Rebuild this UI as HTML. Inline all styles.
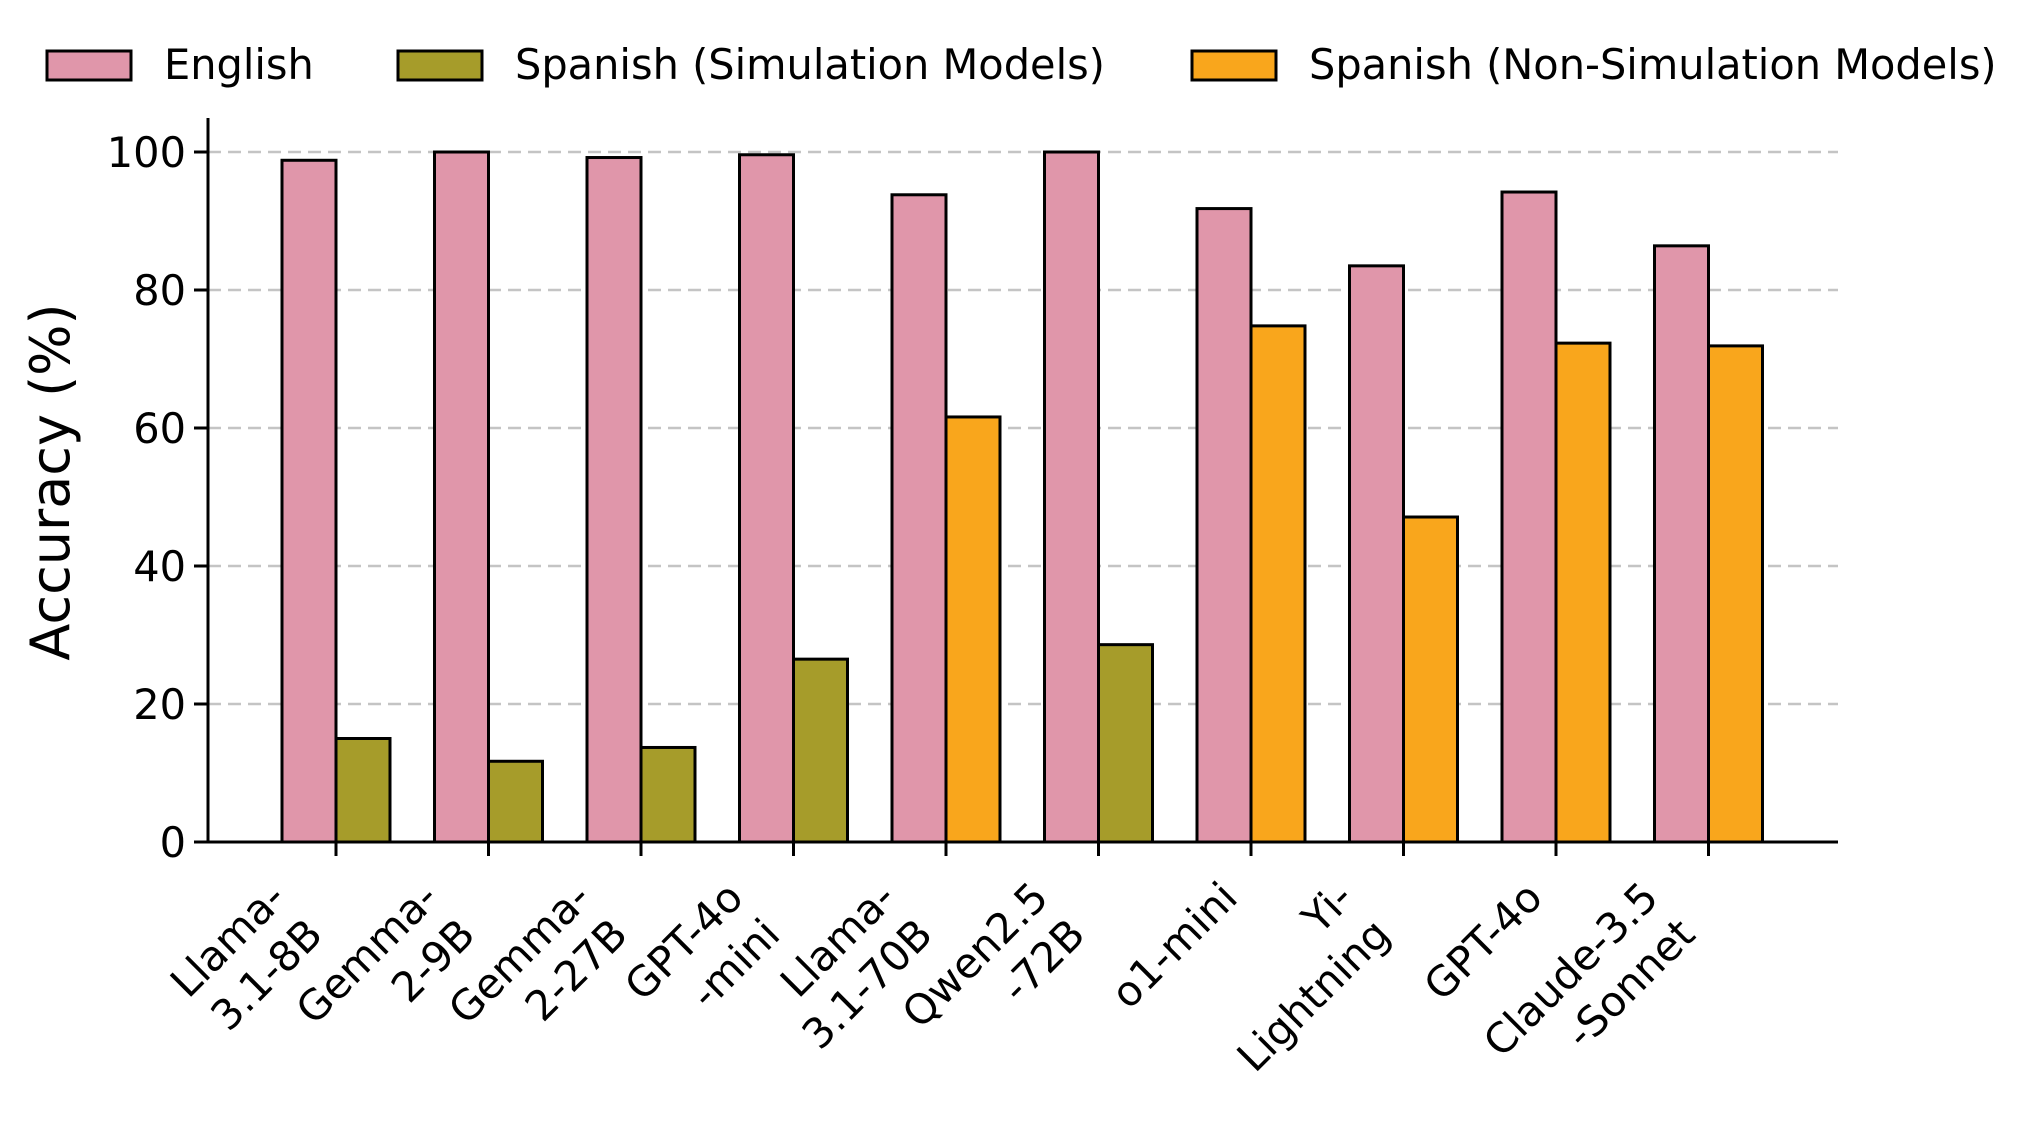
<!DOCTYPE html>
<html><head><meta charset="utf-8"><style>
html,body{margin:0;padding:0;background:#fff;}
svg{display:block;font-family:"DejaVu Sans","Liberation Sans",sans-serif;}
</style></head><body>
<svg id="chart" width="2041" height="1125" viewBox="0 0 2041 1125" xmlns="http://www.w3.org/2000/svg">
<g id="legend">
 <g>
  <rect x="47" y="51" width="84" height="29" fill="#e096aa" stroke="#000" stroke-width="3"/>
  <text x="164" y="79" font-size="41.5">English</text>
 </g>
 <g>
  <rect x="398" y="51" width="84" height="29" fill="#a69c2a" stroke="#000" stroke-width="3"/>
  <text x="515" y="79" font-size="41.5">Spanish (Simulation Models)</text>
 </g>
 <g>
  <rect x="1192" y="51" width="84" height="29" fill="#f9a61c" stroke="#000" stroke-width="3"/>
  <text x="1309" y="79" font-size="41.5">Spanish (Non-Simulation Models)</text>
 </g>
</g>
<g id="grid"></g>
<g id="bars"></g>
<g id="axes"></g>
<text transform="translate(69,482) rotate(-90)" text-anchor="middle" font-size="54">Accuracy (%)</text>
</svg>
<script>
const categories = ["Llama-\n3.1-8B","Gemma-\n2-9B","Gemma-\n2-27B","GPT-4o\n-mini","Llama-\n3.1-70B","Qwen2.5\n-72B","o1-mini","Yi-\nLightning","GPT-4o","Claude-3.5\n-Sonnet"];
const englishValues = [98.8,100,99.2,99.6,93.8,100,91.8,83.5,94.2,86.4];
const spanishValues = [15.0,11.7,13.7,26.5,61.6,28.6,74.8,47.1,72.3,71.9];
const simulationFlags = [true,true,true,true,false,true,false,false,false,false];
const yTicks = [0,20,40,60,80,100];

const NS="http://www.w3.org/2000/svg";
const X0=208, X1=1838, YTOP=118, Y0=842, PER=6.9;
const C0=336, STEP=152.5, BW=54, FS=41.5, LH=52;
function yScale(v){return Y0-v*PER;}
function xCenter(i){return C0+STEP*i;}
function mk(tag,attrs,parent){const e=document.createElementNS(NS,tag);for(const k in attrs)e.setAttribute(k,attrs[k]);parent.appendChild(e);return e;}

const grid=document.getElementById('grid');
const axes=document.getElementById('axes');
const bars=document.getElementById('bars');
yTicks.forEach(t=>{
  const y=yScale(t);
  if(t>0){
    const gl=mk('line',{x1:X0,x2:X1,y1:y,y2:y,stroke:'#c4c4c4','stroke-width':2.5,'stroke-dasharray':'13,7'},grid);
    
    
  }
  const tk=mk('line',{x1:X0-14,x2:X0,y1:y,y2:y,stroke:'#000','stroke-width':3},axes);
  
  
  const lb=mk('text',{x:X0-22,y:y+15,'text-anchor':'end','font-size':FS},axes);
  lb.textContent=t;
  
  
});
categories.forEach((c,i)=>{
  const cx=xCenter(i);
  const e=englishValues[i], s=spanishValues[i];
  const b1=mk('rect',{x:cx-BW,y:yScale(e),width:BW,height:Y0-yScale(e),fill:'#e096aa',stroke:'#000','stroke-width':3},bars);
  
  
  const b2=mk('rect',{x:cx,y:yScale(s),width:BW,height:Y0-yScale(s),fill:simulationFlags[i]?'#a69c2a':'#f9a61c',stroke:'#000','stroke-width':3},bars);
  
  
  const tk=mk('line',{x1:cx,x2:cx,y1:Y0,y2:Y0+14,stroke:'#000','stroke-width':3},axes);
  
  
  const lines=c.split('\n');
  const n=lines.length;
  const tx=cx-5-0.707*((n-1)*LH+9);
  const ty=Y0+58;
  const g=mk('g',{transform:'translate('+tx+','+ty+') rotate(-45)'},axes);
  
  
  lines.forEach((ln,j)=>{
    const t=mk('text',{x:0,y:j*LH,'text-anchor':'end','font-size':FS},g);
    t.textContent=ln;
  });
});
const ya=mk('line',{x1:X0,x2:X0,y1:YTOP,y2:Y0+1.5,stroke:'#000','stroke-width':3},axes);


const xa=mk('line',{x1:X0-1.5,x2:X1,y1:Y0,y2:Y0,stroke:'#000','stroke-width':3},axes);


</script>
</body></html>
